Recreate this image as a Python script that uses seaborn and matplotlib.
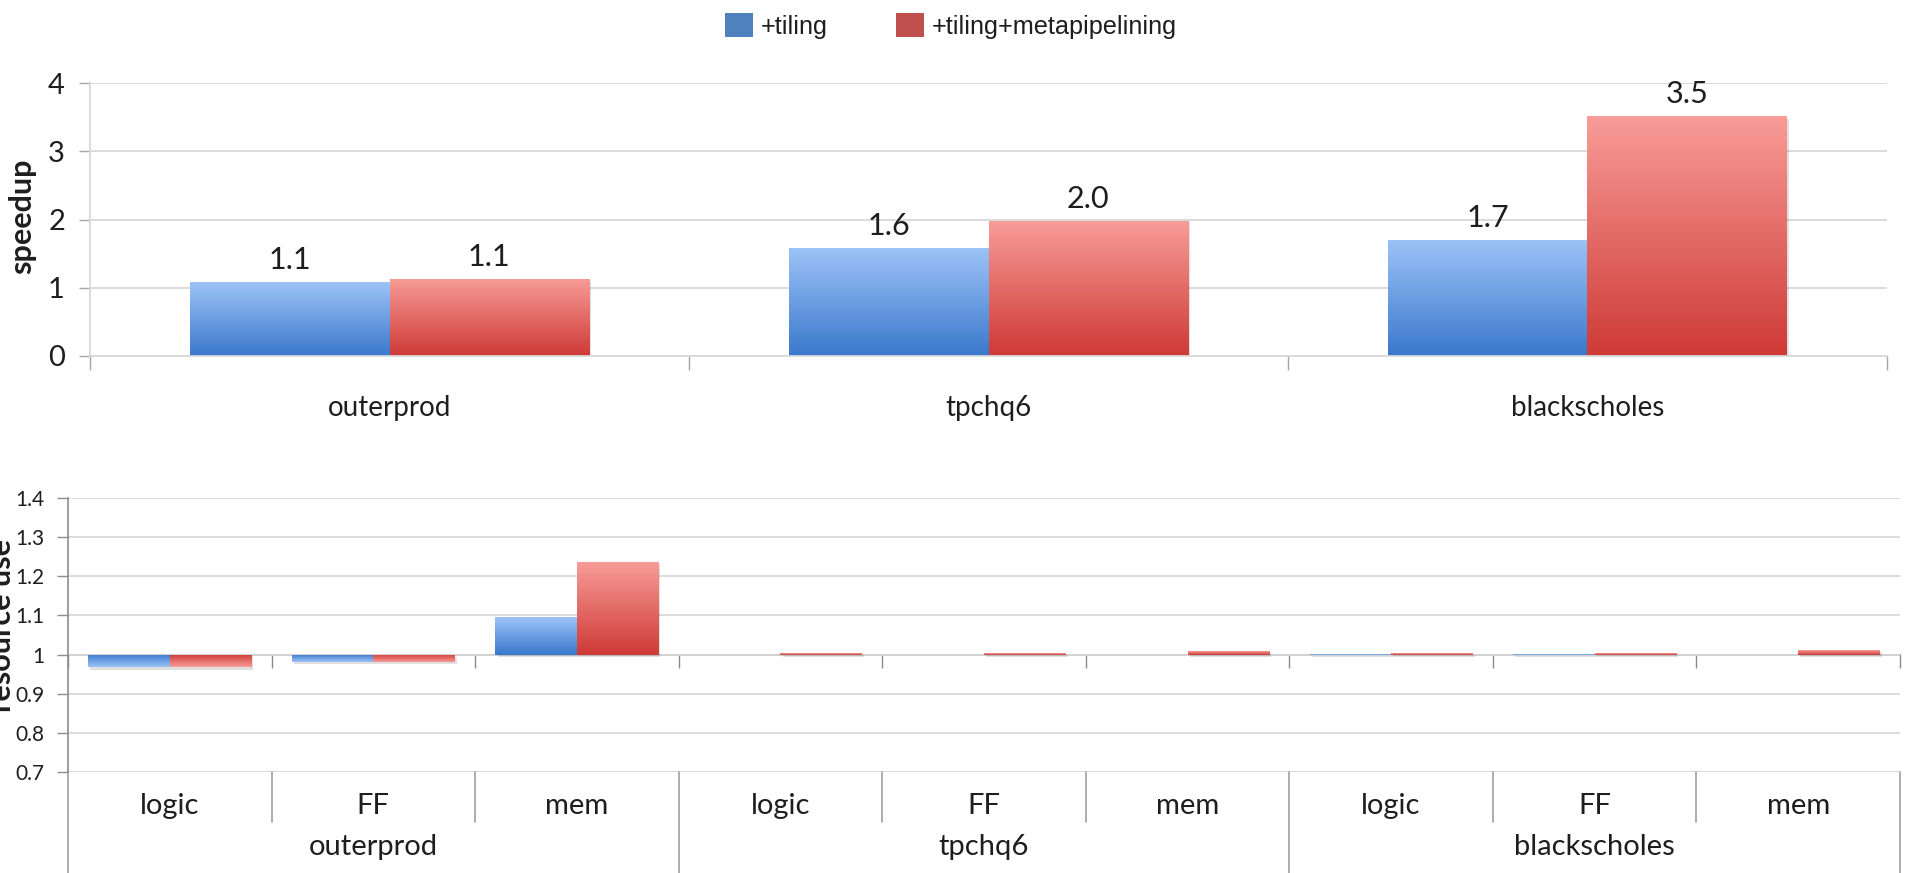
import numpy as np
import pandas as pd
import matplotlib
matplotlib.use("Agg")
import matplotlib.pyplot as plt
import matplotlib.transforms as mtransforms
import seaborn as sns
from matplotlib import font_manager
from matplotlib.colors import LinearSegmentedColormap
from matplotlib.lines import Line2D
from matplotlib.patches import Patch
from matplotlib import patheffects

# ---- data -------------------------------------------------------------
series = ["+tiling", "+tiling+metapipelining"]

benchmarks = ["outerprod", "tpchq6", "blackscholes"]
speedup_tiling = [1.08, 1.58, 1.70]
speedup_metapipe = [1.13, 1.98, 3.51]

resources = ["logic", "FF", "mem"]
# resource use relative to baseline, ordered benchmark-major / resource-minor
resource_tiling = [0.967, 0.981, 1.097, 0.999, 0.999, 0.999, 1.002, 1.002, 0.999]
resource_metapipe = [0.967, 0.981, 1.236, 1.003, 1.003, 1.008, 1.004, 1.004, 1.012]

speed_ticks = [0, 1, 2, 3, 4]
resource_ticks = [0.7, 0.8, 0.9, 1.0, 1.1, 1.2, 1.3, 1.4]

# ---- style ------------------------------------------------------------
LEG_BLUE, LEG_RED = "#4F81BD", "#C0504D"
BLUE_TIP, BLUE_BASE = "#9DC3F7", "#3A78CC"
RED_TIP, RED_BASE = "#F89C98", "#CE3A36"
GRID = "#D9D9D9"
AXIS = "#A6A6A6"
TEXT = "#1E1E1E"

sns.set_theme(style="white")
plt.rcParams["font.family"] = ["Lato", "DejaVu Sans"]
plt.rcParams["text.color"] = TEXT

installed = {f.name for f in font_manager.fontManager.ttflist}
if "Liberation Sans Narrow" in installed:
    legend_font = font_manager.FontProperties(family="Liberation Sans Narrow", size=22)
    legend_spacing = 2.3
else:
    legend_font = font_manager.FontProperties(family="Liberation Sans", size=18.2)
    legend_spacing = 2.7

W, H = 1920, 873
fig = plt.figure(figsize=(W / 100, H / 100), dpi=100)


def axes_px(left, top, right, bottom):
    return fig.add_axes([left / W, 1 - bottom / H, (right - left) / W, (bottom - top) / H])


ax1 = axes_px(90, 83, 1887, 356)
ax2 = axes_px(68, 498, 1900, 772)


def shade_bars(ax, containers, colours):
    """Paint each bar with a vertical gradient running from its base to its tip."""
    for container, (tip, base) in zip(containers, colours):
        cmap = LinearSegmentedColormap.from_list("bar", [base, tip])
        grad = np.linspace(0, 1, 256).reshape(-1, 1)
        for patch in container.patches:
            h = patch.get_height()
            patch.set_path_effects([
                patheffects.SimplePatchShadow(offset=(1.5, -1.5), shadow_rgbFace="#000000", alpha=0.12),
                patheffects.Normal(),
            ])
            if h == 0:
                continue
            x0, y0, w = patch.get_x(), patch.get_y(), patch.get_width()
            im = ax.imshow(grad, cmap=cmap, extent=(x0, x0 + w, y0, y0 + h), origin="lower",
                           aspect="auto", interpolation="bilinear", zorder=patch.get_zorder() + 0.01)
            im.set_clip_path(patch)


# ---- top panel: speedup ----------------------------------------------
df_speed = pd.DataFrame({
    "benchmark": benchmarks * 2,
    "series": [series[0]] * len(benchmarks) + [series[1]] * len(benchmarks),
    "speedup": speedup_tiling + speedup_metapipe,
})
sns.barplot(data=df_speed, x="benchmark", y="speedup", hue="series", order=benchmarks,
            hue_order=series, palette=[LEG_BLUE, LEG_RED], width=2 / 3, saturation=1,
            errorbar=None, linewidth=0, legend=False, ax=ax1)
for container in ax1.containers:
    ax1.bar_label(container, fmt="%.1f", padding=6, fontsize=22, color=TEXT)
shade_bars(ax1, ax1.containers, [(BLUE_TIP, BLUE_BASE), (RED_TIP, RED_BASE)])

ax1.set_xlim(-0.5, len(benchmarks) - 0.5)
ax1.set_ylim(speed_ticks[0], speed_ticks[-1])
ax1.set_yticks(speed_ticks)
ax1.set_xticks(np.arange(-0.5, len(benchmarks), 1.0), minor=True)
ax1.yaxis.grid(True, color=GRID, lw=1.3)
ax1.set_axisbelow(True)
ax1.set_xlabel("")
ax1.set_ylabel("")
for s in ["top", "right"]:
    ax1.spines[s].set_visible(False)
for s in ["left", "bottom"]:
    ax1.spines[s].set_color(GRID)
    ax1.spines[s].set_linewidth(1.3)
ax1.tick_params(axis="y", left=True, length=8, width=1, color=AXIS, pad=10, labelsize=21,
                labelcolor=TEXT)
ax1.tick_params(axis="x", which="major", bottom=False, length=0, pad=28, labelsize=20,
                labelcolor=TEXT)
ax1.tick_params(axis="x", which="minor", bottom=True, length=10, width=1, color=AXIS)

# ---- bottom panel: resource use --------------------------------------
keys = [f"{b}:{r}" for b in benchmarks for r in resources]
df_res = pd.DataFrame({
    "key": keys * 2,
    "series": [series[0]] * len(keys) + [series[1]] * len(keys),
    "value": resource_tiling + resource_metapipe,
})
# bars grow from the 1.0 baseline, so plot the offset from it
df_res["offset"] = df_res["value"] - 1.0
sns.barplot(data=df_res, x="key", y="offset", hue="series", order=keys, hue_order=series,
            palette=[LEG_BLUE, LEG_RED], width=0.8, saturation=1, errorbar=None,
            linewidth=0, legend=False, ax=ax2)
shade_bars(ax2, ax2.containers, [(BLUE_TIP, BLUE_BASE), (RED_TIP, RED_BASE)])

n = len(keys)
ax2.set_xlim(-0.5, n - 0.5)
ylo, yhi = resource_ticks[0] - 1.0, resource_ticks[-1] - 1.0
ax2.set_ylim(ylo, yhi)
ax2.set_yticks([t - 1.0 for t in resource_ticks])
ax2.yaxis.set_major_formatter(plt.FuncFormatter(lambda v, _: f"{round(v + 1.0, 1):g}"))
ax2.yaxis.grid(True, color=GRID, lw=1.3)
ax2.set_axisbelow(True)
ax2.set_xlabel("")
ax2.set_ylabel("")
ax2.set_xticks(range(n))
ax2.set_xticklabels([r for _ in benchmarks for r in resources])
for s in ["top", "right", "bottom"]:
    ax2.spines[s].set_visible(False)
ax2.spines["left"].set_color("#8C8C8C")
ax2.spines["left"].set_linewidth(1.2)
ax2.tick_params(axis="y", left=True, length=8, width=1, color="#8C8C8C", pad=9, labelsize=15,
                labelcolor=TEXT)
ax2.tick_params(axis="x", bottom=False, length=0, pad=15, labelsize=21, labelcolor=TEXT)

# horizontal axis at the 1.0 baseline with ticks between categories
base = ax2.secondary_xaxis((0 - ylo) / (yhi - ylo))
base.set_xticks(np.arange(-0.5, n, 1.0))
base.tick_params(axis="x", length=9, width=1, color="#8C8C8C", labelbottom=False)
base.spines["bottom"].set_color("#8C8C8C")
base.spines["bottom"].set_linewidth(1.3)

# category table below the plot area
trans = mtransforms.blended_transform_factory(ax2.transData, ax2.transAxes)
for i in range(n + 1):
    xb = i - 0.5
    y_end = -0.40 if i % len(resources) == 0 else -0.183
    ax2.add_line(Line2D([xb, xb], [0, y_end], transform=trans, color="#A0A0A0", lw=1.2,
                        clip_on=False))
for g, name in enumerate(benchmarks):
    center = g * len(resources) + (len(resources) - 1) / 2
    ax2.text(center, -0.272, name, transform=trans, ha="center", va="center", fontsize=21,
             color=TEXT)

# ---- labels and legend -------------------------------------------------
fig.text(22 / W, 1 - 216 / H, "speedup", rotation=90, ha="center", va="center",
         fontsize=22, fontweight="bold", color=TEXT)
fig.text(16 / W, 1 - 625 / H, "resource use", rotation=90, ha="right", va="center",
         fontsize=22, fontweight="bold", color=TEXT)

handles = [Patch(facecolor=LEG_BLUE, edgecolor="none"), Patch(facecolor=LEG_RED, edgecolor="none")]
fig.legend(handles, series, loc="center", bbox_to_anchor=(951 / W, 1 - 26 / H), ncol=2,
           frameon=False, prop=legend_font, handlelength=1.1, handleheight=1.1,
           handletextpad=0.31, columnspacing=legend_spacing, borderpad=0, borderaxespad=0)

fig.savefig("out.png", dpi=100, facecolor="white")
